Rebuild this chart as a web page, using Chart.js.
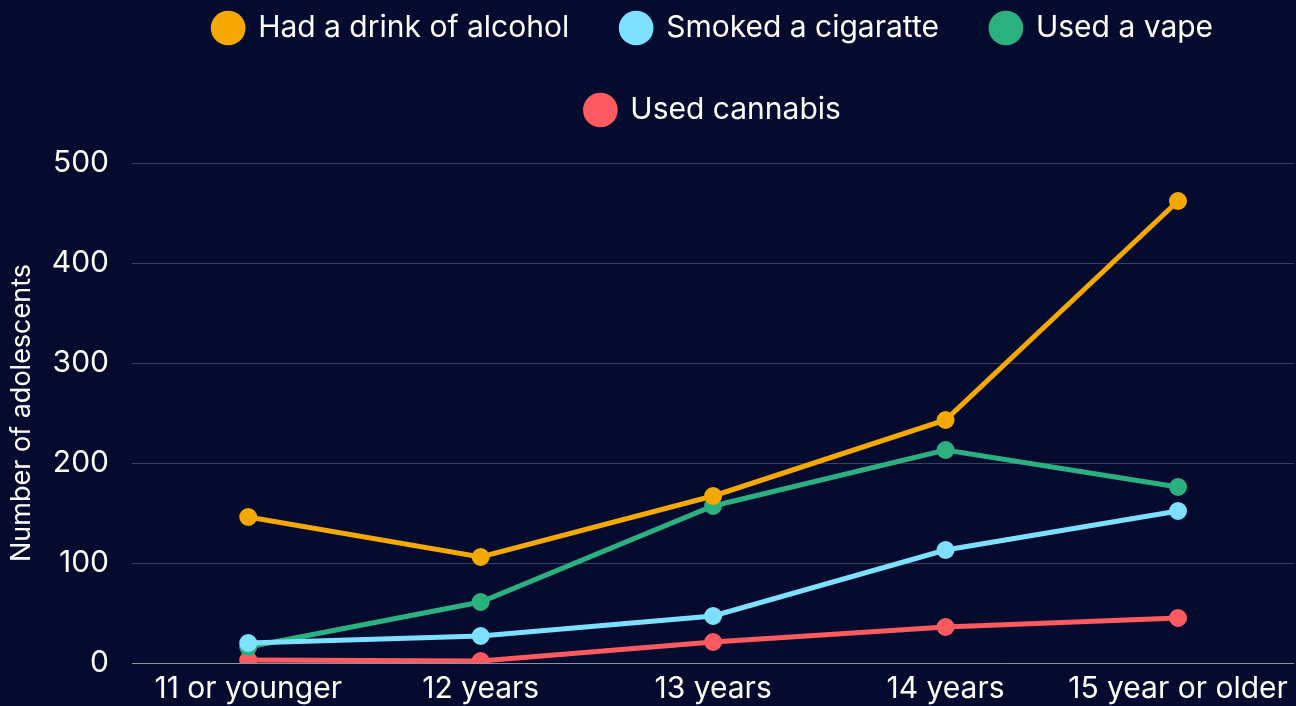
<!DOCTYPE html>
<html>
<head>
<meta charset="utf-8">
<script src="https://cdn.jsdelivr.net/npm/chart.js@4"></script>
<style>
  html, body { margin: 0; padding: 0; background: #050b2e; overflow: hidden; }
  #wrap { width: 1296px; height: 706px; position: relative; }
</style>
</head>
<body>
<div id="wrap"><canvas id="ageChart"></canvas></div>
<script>
// age groups on the x axis
const ageGroups = ['11 or younger', '12 years', '13 years', '14 years', '15 year or older'];

// number of adolescents per first-use age
const alcohol = [146, 106, 167, 243, 462];
const cigarette = [20, 27, 47, 113, 152];
const vape = [16, 61, 157, 213, 176];
const cannabis = [3, 2, 21, 36, 45];

const yTicks = [0, 100, 200, 300, 400, 500];

const fontFamily = 'Inter, "Noto Sans", sans-serif';

function series(label, data, color) {
  return {
    label: label,
    data: data,
    borderColor: color,
    backgroundColor: color,
    borderWidth: 5,
    pointRadius: 6.5,
    pointHoverRadius: 6.5,
    tension: 0
  };
}

// push the plot down a bit below the legend
const legendSpacing = {
  id: 'legendSpacing',
  beforeInit(chart) {
    const originalFit = chart.legend.fit;
    chart.legend.fit = function fit() {
      originalFit.bind(chart.legend)();
      this.height += 28;
    };
  }
};

const ctx = document.getElementById('ageChart');

new Chart(ctx, {
  type: 'line',
  data: {
    labels: ageGroups,
    datasets: [
      series('Had a drink of alcohol', alcohol, '#f5a800'),
      series('Smoked a cigaratte', cigarette, '#7de0ff'),
      series('Used a vape', vape, '#2bb07f'),
      series('Used cannabis', cannabis, '#ff5a5f')
    ]
  },
  plugins: [legendSpacing],
  options: {
    responsive: true,
    maintainAspectRatio: false,
    animation: false,
    layout: { autoPadding: false, padding: { left: 0, right: 0, top: -39, bottom: 0 } },
    plugins: {
      legend: {
        position: 'top',
        fullSize: false,
        labels: {
          usePointStyle: true,
          pointStyle: 'circle',
          boxHeight: 21,
          color: '#ffffff',
          padding: 52,
          font: { family: fontFamily, size: 30 }
        }
      },
      tooltip: { enabled: false }
    },
    scales: {
      x: {
        offset: true,
        afterFit: (axis) => { axis.height = 43; },
        grid: { display: false, drawTicks: false },
        border: { display: false },
        ticks: {
          color: '#ffffff',
          padding: 8,
          maxRotation: 0,
          autoSkip: false,
          font: { family: fontFamily, size: 30 }
        }
      },
      y: {
        min: 0,
        max: 500,
        afterBuildTicks: (axis) => { axis.ticks = yTicks.map(v => ({ value: v })); },
        afterFit: (axis) => { axis.width = 132; },
        grid: {
          color: (c) => c.tick && c.tick.value === 0 ? 'rgba(255,255,255,0.55)' : 'rgba(255,255,255,0.22)',
          lineWidth: 1,
          drawTicks: false
        },
        border: { display: false },
        ticks: {
          color: '#ffffff',
          padding: 23,
          font: { family: fontFamily, size: 30 }
        },
        title: {
          display: true,
          text: 'Number of adolescents',
          color: '#ffffff',
          padding: { top: 6, bottom: 18 },
          font: { family: fontFamily, size: 27 }
        }
      }
    }
  }
});
</script>
</body>
</html>
